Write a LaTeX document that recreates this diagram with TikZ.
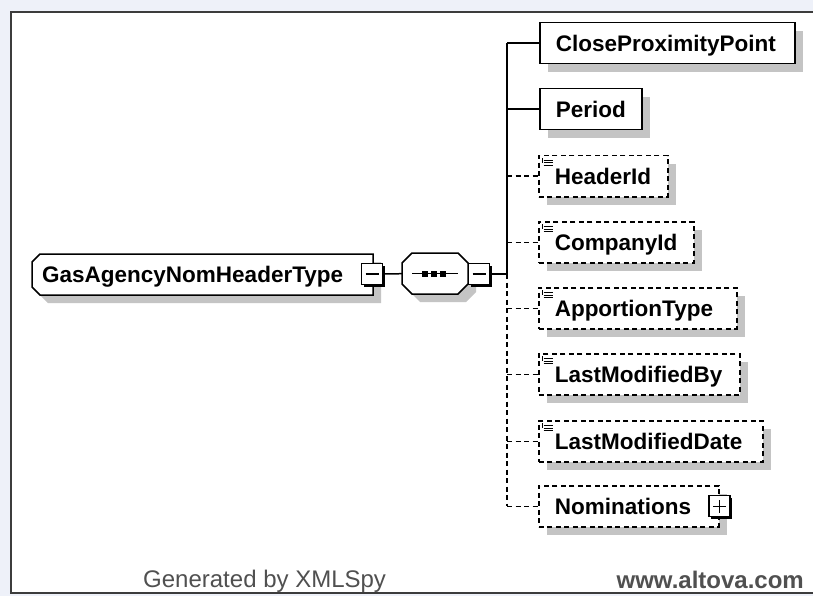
\documentclass[tikz,border=0pt]{standalone}
\usepackage{fontspec}
\setmainfont{Liberation Sans}
\definecolor{bgblue}{HTML}{EEF1F9}
\definecolor{framegray}{HTML}{3C3C3C}
\definecolor{shadowgray}{HTML}{C4C4C4}
\definecolor{footgray}{HTML}{505050}
\begin{document}
\begin{tikzpicture}[x=1pt,y=-1pt,
  shad/.style={preaction={fill=shadowgray, transform canvas={shift={(8pt,-8pt)}}}},
  elembase/.style={rectangle, line width=1.5pt, fill=white, anchor=north west,
    minimum height=41pt, inner xsep=16pt, inner ysep=0pt, text height=16pt,
    text depth=0pt, align=left, font=\bfseries\fontsize{22.5}{27}\selectfont, shad},
  mandatory/.style={elembase, draw=black},
  optional/.style={elembase, draw=black, dash pattern=on 5pt off 3.5pt},
  conn/.style={line width=1.5pt, black},
  optconn/.style={conn, dash pattern=on 5pt off 3.5pt},
  expander/.style={rectangle, draw=black, fill=white, line width=1.2pt,
    minimum size=21pt, inner sep=0pt,
    preaction={fill=black, transform canvas={shift={(2pt,-2pt)}}}},
  minusbox/.style={expander, path picture={
    \draw[line width=1.3pt] ([xshift=4pt]path picture bounding box.west) -- ([xshift=-4pt]path picture bounding box.east);}},
  plusbox/.style={expander, path picture={
    \draw[line width=1.3pt] ([xshift=4pt]path picture bounding box.west) -- ([xshift=-4pt]path picture bounding box.east);
    \draw[line width=1.3pt] ([yshift=-4pt]path picture bounding box.north) -- ([yshift=4pt]path picture bounding box.south);}},
  icon/.style={line width=1pt, black},
  foot/.style={inner sep=0pt, text=footgray, font=\fontsize{24}{28}\selectfont}
]
\useasboundingbox (0,0) rectangle (813,596);
% background and frame
\fill[bgblue] (0,0) rectangle (813,596);
\fill[white] (11,12) rectangle (813,593);
\draw[framegray, line width=2pt] (813,12) -- (11,12) -- (11,593) -- (813,593);

% shadows of the chamfered shapes
\fill[shadowgray] (48,262) -- (381,262) -- (381,303) -- (48,303) -- (40,295) -- (40,270) -- cycle;
\fill[shadowgray] (420,261) -- (466,261) -- (476,271) -- (476,292) -- (466,302) -- (420,302) -- (410,292) -- (410,271) -- cycle;

% complex type node
\node[rectangle, inner xsep=10pt, inner ysep=0pt, text width=321pt, minimum height=41pt,
      text height=16pt, text depth=0pt, align=left, anchor=north west,
      font=\bfseries\fontsize{22.5}{27}\selectfont] (main) at (32,254) {};
\draw[line width=1.5pt, fill=white] (40,254) -- (373,254) -- (373,295) -- (40,295) -- (32,287) -- (32,262) -- cycle;
\node[anchor=west, inner sep=0pt, text height=16pt, text depth=0pt,
      font=\bfseries\fontsize{22.5}{27}\selectfont] (maintext) at ([xshift=10pt]main.west) {GasAgencyNomHeaderType};

% sequence compositor
\node[rectangle, minimum width=66pt, minimum height=41pt, inner sep=0pt, anchor=north west] (seq) at (402,253) {};
\draw[line width=1.5pt, fill=white] (412,253) -- (458,253) -- (468,263) -- (468,284) -- (458,294) -- (412,294) -- (402,284) -- (402,263) -- cycle;
\draw[line width=1.5pt] (412,273.5) -- (458,273.5);
\foreach \dx in {425,434,443} \fill (\dx-3,270.5) rectangle (\dx+3,276.5);

% expanders
\node[minusbox] (mainminus) at (372,274) {};
\node[minusbox] (seqminus) at (479,274) {};

% child elements
\node[mandatory, text width=223pt] (cp)  at (539,22)  {CloseProximityPoint};
\node[mandatory, text width=70pt]  (per) at (539,88)  {Period};
\node[optional,  text width=97pt]  (hid) at (538,155) {HeaderId};
\node[optional,  text width=123pt] (cid) at (538,221) {CompanyId};
\node[optional,  text width=166pt] (apt) at (538,287) {ApportionType};
\node[optional,  text width=169pt] (lmb) at (538,353) {LastModifiedBy};
\node[optional,  text width=192pt] (lmd) at (538,420) {LastModifiedDate};
\node[optional,  text width=148pt] (nom) at (538,485) {Nominations};
\node[plusbox] (nomplus) at (nom.east) {};

% simple content icons
\foreach \n in {hid,cid,apt,lmb,lmd}{
  \draw[icon] ([shift={(5.5pt,-5.5pt)}]\n.north west) -- ++(9,0)
              ([shift={(5.5pt,-8pt)}]\n.north west) -- ++(9,0)
              ([shift={(5.5pt,-10.5pt)}]\n.north west) -- ++(9,0);
  \draw[icon] ([shift={(4pt,-3pt)}]\n.north west) -- ++(0,5);
}

% connectors
\coordinate (trunk) at (507,0);
\draw[conn] (mainminus.east) -- (seq.west);
\draw[conn] (seqminus.east) -- (trunk |- seqminus.east);
\draw[conn] (trunk |- cp.west) -- (trunk |- seqminus.east);
\draw[optconn] (trunk |- seqminus.east) -- (trunk |- nom.west);
\draw[conn] (trunk |- cp.west) -- (cp.west);
\draw[conn] (trunk |- per.west) -- (per.west);
\foreach \n in {hid,cid,apt,lmb,lmd,nom}
  \draw[optconn] (trunk |- \n.west) -- (\n.west);

% footer
\node[foot, anchor=base west] (gen) at (143,587) {Generated by XMLSpy};
\node[foot, anchor=base east, font=\bfseries\fontsize{24}{28}\selectfont] (alt) at (804,588) {www.altova.com};
\end{tikzpicture}
\end{document}
